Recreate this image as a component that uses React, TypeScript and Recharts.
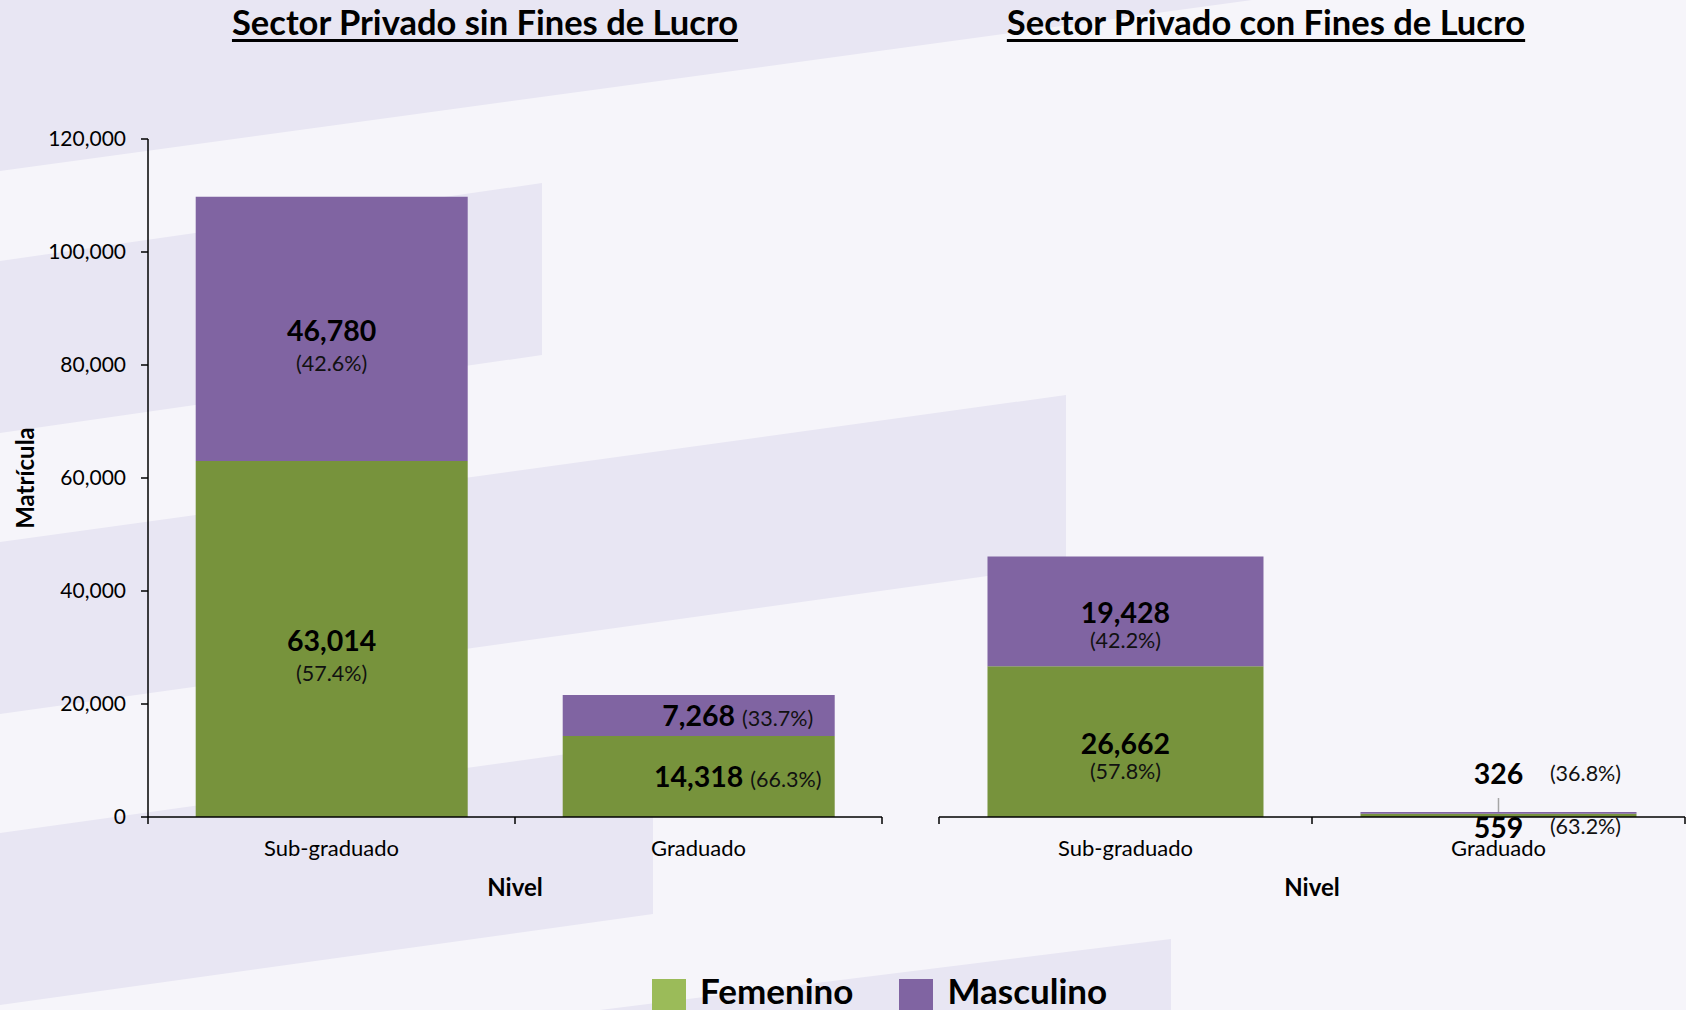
import React from 'react';
import { BarChart, Bar, XAxis, YAxis, LabelList } from 'recharts';

// ---------- data ----------
const niveles = ['Sub-graduado', 'Graduado'];
const sinFinesFemenino = [63014, 14318];
const sinFinesMasculino = [46780, 7268];
const conFinesFemenino = [26662, 559];
const conFinesMasculino = [19428, 326];
const yTicks = [0, 20000, 40000, 60000, 80000, 100000, 120000];
const seriesNames = ['Femenino', 'Masculino'];
const chartTitles = ['Sector Privado sin Fines de Lucro', 'Sector Privado con Fines de Lucro'];
const xAxisTitle = 'Nivel';
const yAxisTitle = 'Matrícula';

// ---------- style ----------
const BAR_COLORS = ['#77933C', '#8064A2'];
const LEGEND_COLORS = ['#9BBB59', '#8064A2'];
const FONT = 'Lato, "Open Sans", sans-serif';
const BG_LIGHT = '#F6F5FA';
const BG_DARK = '#E8E6F3';
const TICK_SIZE = 7;
const TICK_MARGIN = 16;
const VALUE_FS = 28.5;
const PCT_FS = 21.5;

type Row = { nivel: string; femenino: number; masculino: number; total: number };

const buildRows = (fem: number[], masc: number[]): Row[] =>
  niveles.map((nivel, i) => ({ nivel, femenino: fem[i], masculino: masc[i], total: fem[i] + masc[i] }));

const fmt = (v: number) => Number(v).toLocaleString('en-US');
const pct = (v: number, total: number) => `(${((v / total) * 100).toFixed(1)}%)`;

function makeLabel(rows: Row[], key: 'femenino' | 'masculino', gap: number) {
  return (props: any) => {
    const vb = props.viewBox ?? props;
    const x = Number(vb.x);
    const y = Number(vb.y);
    const w = Number(vb.width);
    const h = Number(vb.height);
    const row = rows[props.index];
    if (!row) return null;
    const value = row[key];
    const p = pct(value, row.total);
    const cx = x + w / 2;
    const cy = y + h / 2;
    if (row.total > 30000) {
      return (
        <g>
          <text x={cx} y={cy + 12} textAnchor="middle" fontFamily={FONT} fontWeight={700} fontSize={VALUE_FS} fill="#000">
            {fmt(value)}
          </text>
          <text x={cx} y={cy + 12 + gap} textAnchor="middle" fontFamily={FONT} fontSize={PCT_FS} fill="#111">
            {p}
          </text>
        </g>
      );
    }
    if (row.total > 5000) {
      return (
        <text x={cx + 39} y={cy + 10} textAnchor="middle" fontFamily={FONT} fill="#000">
          <tspan fontWeight={700} fontSize={VALUE_FS}>{fmt(value)}</tspan>
          <tspan fontSize={PCT_FS} dx={7} fill="#111">{p}</tspan>
        </text>
      );
    }
    if (key === 'masculino') {
      return (
        <g>
          <line x1={cx} x2={cx} y1={y - 14} y2={y} stroke="#A6A6A6" strokeWidth={1.5} />
          <text x={cx} y={y - 28} textAnchor="middle" fontFamily={FONT} fontWeight={700} fontSize={VALUE_FS} fill="#000">
            {fmt(value)}
          </text>
          <text x={cx + 87} y={y - 31} textAnchor="middle" fontFamily={FONT} fontSize={PCT_FS} fill="#111">
            {p}
          </text>
        </g>
      );
    }
    return (
      <g>
        <text x={cx} y={y + h + 21} textAnchor="middle" fontFamily={FONT} fontWeight={700} fontSize={VALUE_FS} fill="#000">
          {fmt(value)}
        </text>
        <text x={cx + 87} y={y + h + 17} textAnchor="middle" fontFamily={FONT} fontSize={PCT_FS} fill="#111">
          {p}
        </text>
      </g>
    );
  };
}

function makeCategoryTick(fallbackHalf: number) {
  return (props: any) => {
    const { x, y, payload, index } = props;
    const half = payload && typeof payload.offset === 'number' && payload.offset > 0 ? payload.offset : fallbackHalf;
    const axisY = y - (TICK_SIZE + TICK_MARGIN);
    const last = index === niveles.length - 1;
    return (
      <g>
        <line x1={x - half} x2={x - half} y1={axisY} y2={axisY + TICK_SIZE} stroke="#000" strokeWidth={1.5} />
        {last && <line x1={x + half} x2={x + half} y1={axisY} y2={axisY + TICK_SIZE} stroke="#000" strokeWidth={1.5} />}
        <text x={x} y={y} dy="0.71em" textAnchor="middle" fontFamily={FONT} fontSize={22} fill="#000">
          {payload.value}
        </text>
      </g>
    );
  };
}

type PanelProps = {
  fem: number[];
  masc: number[];
  width: number;
  margin: { top: number; right: number; bottom: number; left: number };
  yAxisWidth: number;
  showYAxis: boolean;
  gap: number;
};

function Panel({ fem, masc, width, margin, yAxisWidth, showYAxis, gap }: PanelProps) {
  const rows = buildRows(fem, masc);
  const plotWidth = width - margin.left - margin.right - (showYAxis ? yAxisWidth : 0);
  const fallbackHalf = plotWidth / niveles.length / 2;
  return (
    <BarChart width={width} height={1010} data={rows} margin={margin} barCategoryGap="13%">
      <XAxis
        dataKey="nivel"
        type="category"
        height={90}
        interval={0}
        tickLine={false}
        tickSize={TICK_SIZE}
        tickMargin={TICK_MARGIN}
        axisLine={{ stroke: '#000', strokeWidth: 1.5 }}
        tick={makeCategoryTick(fallbackHalf)}
        label={{
          value: xAxisTitle,
          position: 'insideBottom',
          offset: 11,
          fontFamily: FONT,
          fontSize: 24,
          fontWeight: 700,
          fill: '#000',
        }}
      />
      {showYAxis ? (
        <YAxis
          type="number"
          domain={[0, 120000]}
          ticks={yTicks}
          interval={0}
          width={yAxisWidth}
          tickSize={TICK_SIZE}
          tickMargin={15}
          tickFormatter={fmt}
          axisLine={{ stroke: '#000', strokeWidth: 1.5 }}
          tickLine={{ stroke: '#000', strokeWidth: 1.5 }}
          tick={{ fill: '#000', fontSize: 21, fontFamily: FONT }}
          label={{
            value: yAxisTitle,
            angle: -90,
            position: 'insideLeft',
            offset: 7,
            fontFamily: FONT,
            fontSize: 24,
            fontWeight: 700,
            fill: '#000',
            style: { textAnchor: 'middle' },
          }}
        />
      ) : (
        <YAxis type="number" domain={[0, 120000]} ticks={yTicks} hide width={0} />
      )}
      <Bar dataKey="femenino" name={seriesNames[0]} stackId="a" fill={BAR_COLORS[0]} isAnimationActive={false}>
        <LabelList dataKey="femenino" content={makeLabel(rows, 'femenino', gap)} />
      </Bar>
      <Bar dataKey="masculino" name={seriesNames[1]} stackId="a" fill={BAR_COLORS[1]} isAnimationActive={false}>
        <LabelList dataKey="masculino" content={makeLabel(rows, 'masculino', gap)} />
      </Bar>
    </BarChart>
  );
}

function Background() {
  return (
    <svg width={1686} height={1010} style={{ position: 'absolute', left: 0, top: 0 }}>
      <rect x={0} y={0} width={1686} height={1010} fill={BG_LIGHT} />
      <polygon points="0,0 1252,0 0,171" fill={BG_DARK} />
      <polygon points="0,261 542,183 542,355 0,433" fill={BG_DARK} />
      <polygon points="0,542 1066,395 1066,565 0,714" fill={BG_DARK} />
      <polygon points="0,833 653,742 653,914 0,1005" fill={BG_DARK} />
      <polygon points="600,1010 1171,939 1171,1010" fill={BG_DARK} />
    </svg>
  );
}

function Title({ text, cx }: { text: string; cx: number }) {
  return (
    <div
      style={{
        position: 'absolute',
        left: cx - 450,
        width: 900,
        top: 5,
        textAlign: 'center',
        fontFamily: FONT,
        fontWeight: 700,
        fontSize: 34.5,
        lineHeight: '34.5px',
        color: '#000',
        textDecoration: 'underline',
        textDecorationThickness: '3px',
        textUnderlineOffset: '4px',
        whiteSpace: 'nowrap',
      }}
    >
      {text}
    </div>
  );
}

function LegendBlock() {
  return (
    <div style={{ position: 'absolute', left: 652, top: 973, display: 'flex', alignItems: 'flex-start' }}>
      {seriesNames.map((name, i) => (
        <div key={name} style={{ display: 'flex', alignItems: 'flex-start', marginRight: 46 }}>
          <div style={{ width: 34, height: 34, marginTop: 6, background: LEGEND_COLORS[i] }} />
          <div
            style={{
              marginLeft: 14,
              fontFamily: FONT,
              fontWeight: 700,
              fontSize: 35,
              lineHeight: '35px',
              color: '#000',
              whiteSpace: 'nowrap',
            }}
          >
            {name}
          </div>
        </div>
      ))}
    </div>
  );
}

export default function App() {
  return (
    <div style={{ position: 'absolute', left: 0, top: 0, width: 1686, height: 1010, overflow: 'hidden', background: BG_LIGHT }}>
      <Background />
      <div style={{ position: 'absolute', left: 0, top: 0 }}>
        <Panel
          fem={sinFinesFemenino}
          masc={sinFinesMasculino}
          width={900}
          margin={{ top: 139, right: 18, bottom: 103, left: 18 }}
          yAxisWidth={130}
          showYAxis
          gap={30}
        />
      </div>
      <div style={{ position: 'absolute', left: 900, top: 0 }}>
        <Panel
          fem={conFinesFemenino}
          masc={conFinesMasculino}
          width={786}
          margin={{ top: 139, right: 1, bottom: 103, left: 39 }}
          yAxisWidth={0}
          showYAxis={false}
          gap={25}
        />
      </div>
      <Title text={chartTitles[0]} cx={485} />
      <Title text={chartTitles[1]} cx={1266} />
      <LegendBlock />
    </div>
  );
}
